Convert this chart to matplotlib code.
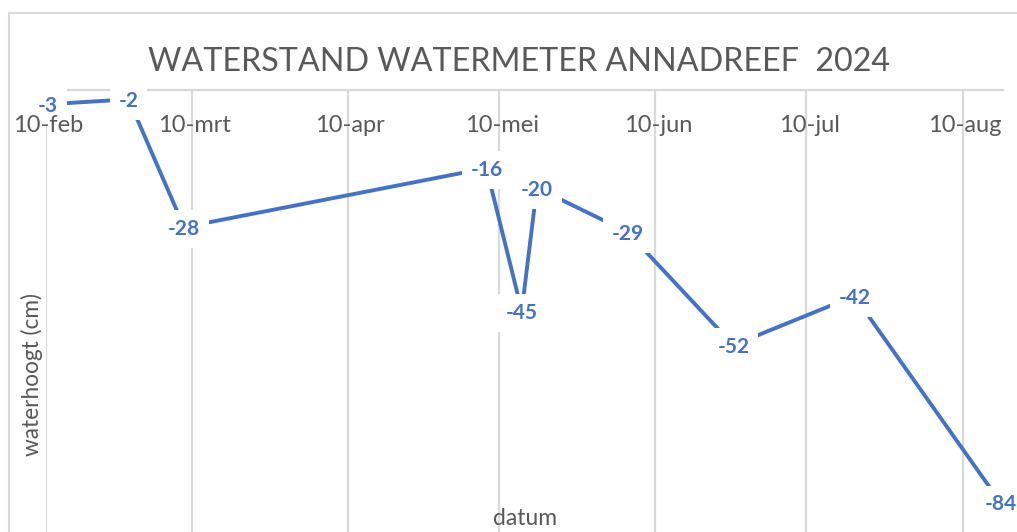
import matplotlib
matplotlib.use("Agg")
import matplotlib.pyplot as plt
import matplotlib.dates as mdates
from matplotlib.patches import Rectangle
import numpy as np

# ---- data ----
dates = ["2024-02-10", "2024-02-26", "2024-03-08", "2024-05-07", "2024-05-14",
         "2024-05-17", "2024-06-04", "2024-06-25", "2024-07-19", "2024-08-17"]
levels = [-3, -2, -28, -16, -45, -20, -29, -52, -42, -84]
tick_dates = ["2024-02-10", "2024-03-10", "2024-04-10", "2024-05-10",
              "2024-06-10", "2024-07-10", "2024-08-10"]
tick_labels = ["10-feb", "10-mrt", "10-apr", "10-mei", "10-jun", "10-jul", "10-aug"]
title = "WATERSTAND WATERMETER ANNADREEF  2024"
x_title = "datum"
y_title = "waterhoogt (cm)"

plt.rcParams['font.family'] = ['Lato', 'DejaVu Sans']

BLUE = "#4472C4"
GREY_TXT = "#595959"
GRID = "#d9d9d9"

W, H = 1017, 532
fig = plt.figure(figsize=(W / 100, H / 100), dpi=100)

left_px, right_px, top_px = 45.5, 1003, 89.5
ax = fig.add_axes([left_px / W, 0, (right_px - left_px) / W, (H - top_px) / H])

xd = mdates.datestr2num(dates) + 0.5          # Excel date axis: points centred in day slot
xt = mdates.datestr2num(tick_dates)

ax.plot(xd, levels, color=BLUE, lw=2.8, solid_capstyle='butt', zorder=3)

for x, v in zip(xd, levels):
    ax.text(x, v, f"{v}", ha='center', va='center_baseline', fontsize=15,
            fontweight='bold', color=BLUE, zorder=6, clip_on=False,
            bbox=dict(boxstyle='square,pad=0.42', fc='white', ec='none'))

ax.set_xlim(mdates.datestr2num("2024-02-10"), mdates.datestr2num("2024-08-18"))
ax.set_ylim(-90, 0)

ax.set_xticks(xt)
ax.set_xticklabels([])
ax.tick_params(axis='x', which='both', length=0)
ax.set_yticks([])
ax.grid(axis='x', which='major', color=GRID, lw=1.6)
ax.set_axisbelow(True)

# category labels (drawn above the data-label boxes, as in the reference)
for x, lab in zip(xt + 0.5, tick_labels):
    ax.annotate(lab, xy=(x, 0), xycoords='data', xytext=(0, -30.6),
                textcoords='offset points', ha='center', va='baseline',
                fontsize=17, color=GREY_TXT, zorder=8, annotation_clip=False)

for s in ['left', 'right', 'top']:
    ax.spines[s].set_visible(False)
ax.spines['bottom'].set_position(('data', 0))
ax.spines['bottom'].set_color(GRID)
ax.spines['bottom'].set_linewidth(1.6)
ax.patch.set_alpha(0)

# chart border
fig.add_artist(Rectangle((9 / W, -0.1), 1.2, (H - 13) / H + 0.1, transform=fig.transFigure,
                         fill=False, ec=GRID, lw=1.5, zorder=0))

fig.text(519 / W, 1 - 70.5 / H, title, ha='center', va='baseline', fontsize=23.2,
         color=GREY_TXT)
fig.text(31.5 / W, 1 - 374 / H, y_title, rotation=90, ha='center', va='center',
         fontsize=16.3, color=GREY_TXT)
fig.text(525 / W, 1 - 525 / H, x_title, ha='center', va='baseline',
         fontsize=16.5, color=GREY_TXT)

fig.savefig("out.png", dpi=100)
